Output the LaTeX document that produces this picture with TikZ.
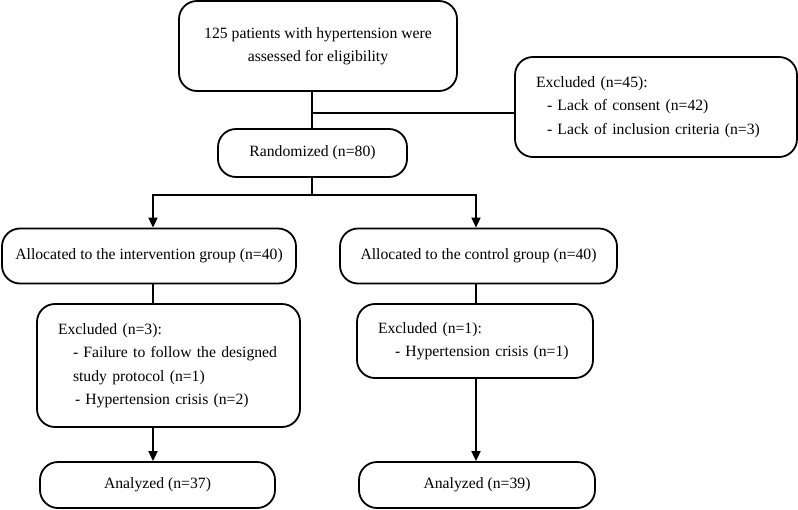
\documentclass[tikz,border=0pt]{standalone}
\usepackage{fontspec}
\setmainfont{Liberation Serif}
\usetikzlibrary{arrows.meta, positioning, calc}
\newcommand{\boxfont}{\fontsize{15.7}{23.5}\selectfont}
\tikzset{
  rbox/.style={rectangle, rounded corners=18pt, draw=black, line width=1.8pt,
    align=center, font=\boxfont, inner sep=0pt},
  xbox/.style={rbox, align=left, inner xsep=21pt},
  line/.style={line width=1.8pt},
  arr/.style={line, -{Triangle[length=10pt, width=9pt]}},
}

\begin{document}
\begin{tikzpicture}[x=1pt, y=-1pt]
  \useasboundingbox (0,0) rectangle (798,509);

  % boxes
  \node[rbox, minimum width=278pt, minimum height=90pt] (elig) at (318,46)
    {125 patients with hypertension were\\assessed for eligibility};
  \node[xbox, text width=240pt, minimum height=100pt] (excl) at (656,107)
    {Excluded (n=45):\\
     \hspace*{11pt}- Lack of consent (n=42)\\
     \hspace*{11pt}- Lack of inclusion criteria (n=3)};
  \node[rbox, minimum width=189pt, minimum height=48pt] (rand) at (312.5,153)
    {Randomized (n=80)};

  \node[rbox, minimum width=294pt, minimum height=55pt] (allocI) at (149,256)
    {Allocated to the intervention group (n=40)};
  \node[rbox, minimum width=277pt, minimum height=55pt] (allocC) at (478.5,256)
    {Allocated to the control group (n=40)};

  \node[xbox, text width=221pt, minimum height=123pt] (exclI) at (168.5,365.5)
    {Excluded (n=3):\\
     \hspace*{15pt}- Failure to follow the designed\\
     \hspace*{15pt}study protocol (n=1)\\
     \hspace*{17pt}- Hypertension crisis (n=2)};
  \node[xbox, text width=194pt, minimum height=74pt] (exclC) at (475,341)
    {Excluded (n=1):\\
     \hspace*{17pt}- Hypertension crisis (n=1)};

  \node[rbox, minimum width=235pt, minimum height=46pt] (anaI) at (157.5,485)
    {Analyzed (n=37)};
  \node[rbox, minimum width=236pt, minimum height=46pt] (anaC) at (477,485)
    {Analyzed (n=39)};

  % junctions
  \coordinate (split) at (312,113);
  \coordinate (fork) at (312,195);
  \coordinate (colI) at (153,195);
  \coordinate (colC) at (476,195);

  % connectors
  \draw[line] (elig.south -| split) -- (rand.north -| split);
  \draw[line] (split) -- (split -| excl.west);
  \draw[line] (rand.south -| fork) -- (fork);
  \draw[arr] (fork) -| (allocI.north -| colI);
  \draw[arr] (fork) -| (allocC.north -| colC);
  \draw[line] (allocI.south -| colI) -- (exclI.north -| colI);
  \draw[arr] (exclI.south -| colI) -- (anaI.north -| colI);
  \draw[line] (allocC.south -| colC) -- (exclC.north -| colC);
  \draw[arr] (exclC.south -| colC) -- (anaC.north -| colC);
\end{tikzpicture}
\end{document}
